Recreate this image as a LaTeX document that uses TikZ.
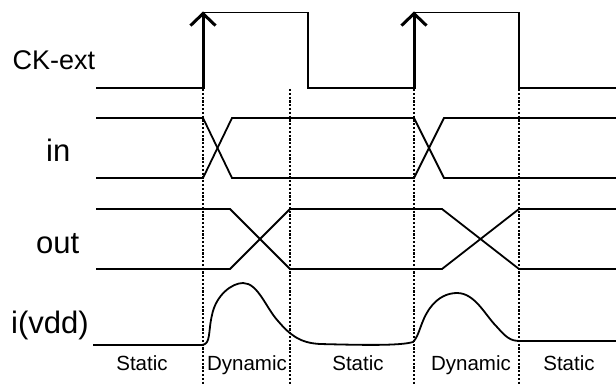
\documentclass[tikz,border=0pt]{standalone}
\usepackage{fontspec}
\setmainfont{Liberation Sans}
\usetikzlibrary{arrows.meta}
\begin{document}
\begin{tikzpicture}[x=1pt,y=-1pt,
  sig/.style={line width=1.8pt,line join=miter},
  clkedge/.style={line width=3pt,-{Straight Barb[length=12pt,width=25pt,line width=3pt]}},
  marker/.style={line width=1.4pt,dash pattern=on 2.2pt off 1.6pt},
  biglabel/.style={font=\fontsize{31}{31}\selectfont,anchor=base west,inner sep=0pt},
  cklabel/.style={font=\fontsize{27}{27}\selectfont,anchor=base west,inner sep=0pt},
  phase/.style={font=\fontsize{20.5}{20.5}\selectfont,anchor=base,inner sep=0pt}]
\useasboundingbox (0,0) rectangle (616,385);
% vertical markers
\coordinate (m1t) at (203,89); \coordinate (m1b) at (203,385);
\coordinate (m2t) at (290,89); \coordinate (m2b) at (290,385);
\coordinate (m3t) at (414,89); \coordinate (m3b) at (414,385);
\coordinate (m4t) at (519,89); \coordinate (m4b) at (519,385);
\draw[marker] (m1t) -- (m1b);
\draw[marker] (m2t) -- (m2b);
\draw[marker] (m3t) -- (m3b);
\draw[marker] (m4t) -- (m4b);
% labels
\node[cklabel] (lck) at (12.5,70) {CK-ext};
\node[biglabel] (lin) at (46,162) {in};
\node[biglabel] (lout) at (36,253) {out};
\node[biglabel] (li) at (11,333) {i(vdd)};
\node[phase] (s1) at (142,370) {Static};
\node[phase] (d1) at (247,370) {Dynamic};
\node[phase] (s2) at (358,370) {Static};
\node[phase] (d2) at (471,370) {Dynamic};
\node[phase] (s3) at (569,370) {Static};
% CK-ext
\draw[sig] (96,88) -- (203,88);
\draw[sig] (203,12.5) -- (308,12.5) -- (308,88) -- (414,88);
\draw[sig] (414,12.5) -- (519,12.5) -- (519,88) -- (616,88);
\draw[clkedge] (203,89.5) -- (203,11.5);
\draw[clkedge] (414,89.5) -- (414,11.5);
% in
\draw[sig] (96,118) -- (203,118) -- (232,178) -- (414,178) -- (444,118) -- (616,118);
\draw[sig] (96,178) -- (203,178) -- (232,118) -- (414,118) -- (444,178) -- (616,178);
% out
\draw[sig] (96,209) -- (230,209) -- (290,269) -- (442,269) -- (519,209) -- (616,209);
\draw[sig] (96,269) -- (230,269) -- (290,209) -- (442,209) -- (519,269) -- (616,269);
% i(vdd)
\draw[sig] (93,345) -- (202,345)
  .. controls (211,344) and (208,332) .. (212,315)
  .. controls (216,295) and (232,283) .. (243,283)
  .. controls (258,283) and (266,308) .. (278,321)
  .. controls (290,335) and (300,343) .. (320,344)
  .. controls (360,345) and (400,346) .. (413,342)
  .. controls (420,335) and (420,322) .. (430,308)
  .. controls (438,297) and (448,293) .. (457,293)
  .. controls (475,293) and (485,315) .. (497,327)
  .. controls (506,337) and (510,341) .. (520,341)
  -- (616,341);
\end{tikzpicture}
\end{document}
